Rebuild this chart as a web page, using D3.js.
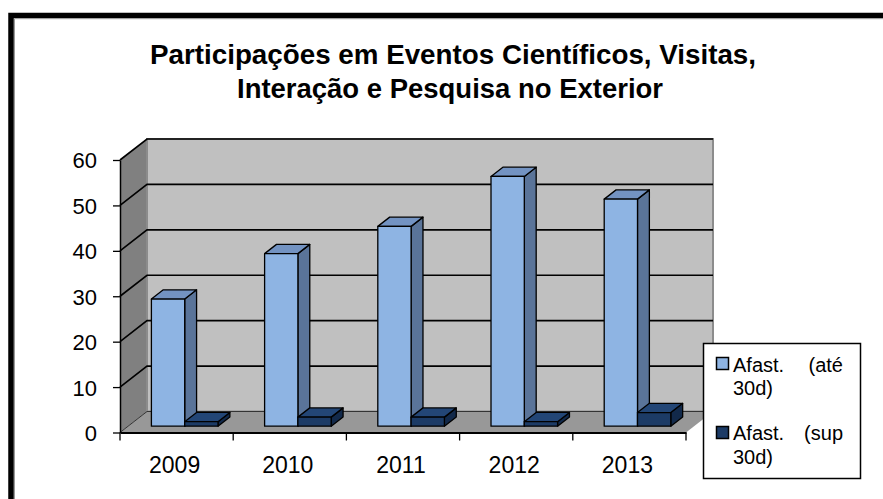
<!DOCTYPE html>
<html>
<head>
<meta charset="utf-8">
<script src="https://cdn.jsdelivr.net/npm/d3@7"></script>
<style>
  html, body { margin: 0; padding: 0; background: #fff; }
  svg { display: block; }
  text { font-family: "Liberation Sans", Arial, sans-serif; fill: #000; }
</style>
</head>
<body>
<svg id="chart" width="883" height="499"></svg>
<script>
// ---- data ----
const years = ["2009", "2010", "2011", "2012", "2013"];
const seriesNames = ["Afast. (até 30d)", "Afast. (sup 30d)"];
const ate30 = [28, 38, 44, 55, 50];
const sup30 = [1, 2, 2, 1, 3];
const yTicks = [0, 10, 20, 30, 40, 50, 60];
const titleLines = ["Participações em Eventos Científicos, Visitas,", "Interação e Pesquisa no Exterior"];

const svg = d3.select("#chart");

// outer frame
svg.append("rect").attr("x", 11).attr("y", 15.5).attr("width", 1000).attr("height", 700)
  .attr("fill", "#fff").attr("stroke", "#000").attr("stroke-width", 5.5);
svg.append("path").attr("d", "M14.5,600 V18.7 H883").attr("fill", "none")
  .attr("stroke", "#9a9a9a").attr("stroke-width", 1);

// title
const tl = [{x: 453, y: 64, w: 606}, {x: 450, y: 98, w: 426}];
svg.selectAll("text.title").data(titleLines).join("text")
  .attr("class", "title")
  .attr("x", (d, i) => tl[i].x).attr("y", (d, i) => tl[i].y)
  .attr("text-anchor", "middle")
  .attr("font-size", 27).attr("font-weight", "bold")
  .attr("textLength", (d, i) => tl[i].w).attr("lengthAdjust", "spacingAndGlyphs")
  .text(d => d);

// scales (front plane)
const x0 = d3.scaleBand().domain(years).range([120, 686]).padding(0);
const x1 = d3.scaleBand().domain(seriesNames).range([0, x0.bandwidth()]).paddingInner(0).paddingOuter(0.7);
const y = d3.scaleLinear().domain([0, 60]).range([432.5, 160]);
const DX = 27, DY = 21;
const P = (xf, yf, z) => [xf + z * DX, yf - z * DY];
const poly = pts => "M" + pts.map(p => p.join(",")).join("L") + "Z";

const xL = x0.range()[0], xR = x0.range()[1];
const y0 = y(0), yTop = y(60);

// left wall
svg.append("path").attr("d", poly([P(xL, y0, 0), P(xL, yTop, 0), P(xL, yTop, 1), P(xL, y0, 1)]))
  .attr("fill", "#808080").attr("stroke", "none");
// back wall
svg.append("path").attr("d", poly([P(xL, y0, 1), P(xL, yTop, 1), P(xR, yTop, 1), P(xR, y0, 1)]))
  .attr("fill", "#c0c0c0").attr("stroke", "#8c8c8c").attr("stroke-width", 2);
// floor
svg.append("path").attr("d", poly([P(xL, y0, 0), P(xR, y0, 0), P(xR, y0, 1), P(xL, y0, 1)]))
  .attr("fill", "#989898").attr("stroke", "none");

// gridlines (left wall diagonal + back wall horizontal)
const grid = svg.append("g").attr("fill", "none").attr("stroke", "#000").attr("stroke-width", 1.6);
yTicks.forEach(t => {
  const a = P(xL, y(t), 0), b = P(xL, y(t), 1), c = P(xR, y(t), 1);
  grid.append("path").attr("d", `M${a}L${b}L${c}`)
    .attr("stroke-width", t === 0 ? 1 : 1.6)
    .attr("stroke", t === 0 ? "#333" : "#000");
});

// y axis
const yAxis = d3.axisLeft(y).tickValues(yTicks).tickSize(7).tickPadding(16).tickSizeOuter(0);
const gy = svg.append("g").attr("transform", `translate(${xL},0)`).call(yAxis);
gy.select(".domain").attr("stroke", "#000").attr("stroke-width", 1.5);
gy.selectAll(".tick line").attr("stroke", "#000").attr("stroke-width", 1.3);
gy.selectAll(".tick text").attr("font-size", 22).attr("font-family", "Liberation Sans, Arial, sans-serif")
  .attr("fill", "#000").attr("dy", "0.36em");

// x axis
const xAxis = d3.axisBottom(x0).tickSize(0).tickPadding(24).tickSizeOuter(0);
const gx = svg.append("g").attr("transform", `translate(0,${y0})`).call(xAxis);
gx.select(".domain").attr("stroke", "#000").attr("stroke-width", 1.8);
gx.selectAll(".tick text").attr("font-size", 23).attr("font-family", "Liberation Sans, Arial, sans-serif")
  .attr("fill", "#000").attr("dx", -2).attr("dy", "0.72em");
// category boundary ticks
const bounds = years.map(d => x0(d)).concat([xR]);
svg.append("g").selectAll("line").data(bounds).join("line")
  .attr("x1", d => d).attr("x2", d => d).attr("y1", y0).attr("y2", y0 + 8)
  .attr("stroke", "#000").attr("stroke-width", 1.3);

// bars
const colors = [
  {front: "#8eb4e3", top: "#7393c2", side: "#5a7499"},
  {front: "#1c3b66", top: "#234676", side: "#12294a"}
];
const Z0 = 0.3, Z1 = 0.74;
const seriesVals = [ate30, sup30];
const barsG = svg.append("g").attr("stroke", "#000").attr("stroke-width", 1.3).attr("stroke-linejoin", "round");
years.forEach((yr, i) => {
  seriesNames.forEach((s, j) => {
    const v = seriesVals[j][i];
    const a = x0(yr) + x1(s), b = a + x1.bandwidth();
    const yt = y(v), yb = y(0);
    const c = colors[j];
    const g = barsG.append("g");
    g.append("path").attr("d", poly([P(b, yt, Z0), P(b, yt, Z1), P(b, yb, Z1), P(b, yb, Z0)])).attr("fill", c.side);
    g.append("path").attr("d", poly([P(a, yt, Z0), P(b, yt, Z0), P(b, yt, Z1), P(a, yt, Z1)])).attr("fill", c.top);
    g.append("path").attr("d", poly([P(a, yt, Z0), P(b, yt, Z0), P(b, yb, Z0), P(a, yb, Z0)])).attr("fill", c.front);
  });
});

// legend
const lg = svg.append("g");
lg.append("rect").attr("x", 703.5).attr("y", 343.5).attr("width", 157).attr("height", 135)
  .attr("fill", "#fff").attr("stroke", "#000").attr("stroke-width", 1.5);
const legendRows = [
  {y: 371.5, sq: 357, a: "Afast.", b: "(até", c: "30d)"},
  {y: 440, sq: 426, a: "Afast.", b: "(sup", c: "30d)"}
];
legendRows.forEach((r, i) => {
  lg.append("rect").attr("x", 716.5).attr("y", r.sq + 0.5).attr("width", 12).attr("height", 12)
    .attr("fill", colors[i].front).attr("stroke", "#000").attr("stroke-width", 1.5);
  lg.append("text").attr("x", 733).attr("y", r.y).attr("font-size", 20).text(r.a);
  lg.append("text").attr("x", 843).attr("y", r.y).attr("font-size", 20).attr("text-anchor", "end").text(r.b);
  lg.append("text").attr("x", 733).attr("y", r.y + 23.5).attr("font-size", 20).text(r.c);
});
</script>
</body>
</html>
